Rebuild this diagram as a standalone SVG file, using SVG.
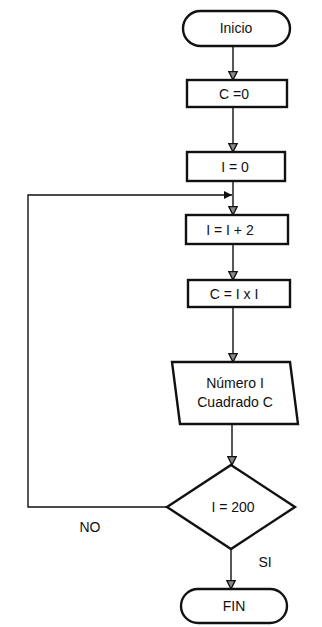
<svg xmlns="http://www.w3.org/2000/svg" width="322" height="627" viewBox="0 0 322 627">
  <style>
    .shape { fill: #fff; stroke: #111; stroke-width: 2.4; }
    .line { fill: none; stroke: #111; stroke-width: 1.4; }
    .label { font-family: "Liberation Sans", Arial, sans-serif; font-size: 14px; fill: #111; text-anchor: middle; dominant-baseline: central; }
  </style>
  <defs>
    <!-- hollow-ish arrowhead for the main flow -->
    <marker id="down" viewBox="-1 -1 12 12" refX="10" refY="5" markerWidth="10" markerHeight="10" markerUnits="userSpaceOnUse" orient="auto">
      <path d="M0,0 L10,5 L0,10 Z" fill="#888" stroke="#111" stroke-width="1.6"/>
    </marker>
    <!-- solid arrowhead for the loop return -->
    <marker id="head" viewBox="0 0 10 10" refX="10" refY="5" markerWidth="10" markerHeight="8" markerUnits="userSpaceOnUse" orient="auto">
      <path d="M0,0 L10,5 L0,10 Z" fill="#111"/>
    </marker>
  </defs>

  <!-- connectors -->
  <g id="connectors">
    <path class="line" d="M233,46 V80" marker-end="url(#down)"/>
    <path class="line" d="M233,107 V152" marker-end="url(#down)"/>
    <path class="line" d="M233,181 V215" marker-end="url(#down)"/>
    <path class="line" d="M233,244 V280" marker-end="url(#down)"/>
    <path class="line" d="M233,307 V362" marker-end="url(#down)"/>
    <path class="line" d="M232,424 V465" marker-end="url(#down)"/>
    <path class="line" d="M231,549 V589" marker-end="url(#down)"/>
    <!-- NO branch back to the loop -->
    <path class="line" d="M167,507 H28 V195 H232" marker-end="url(#head)"/>
    <text class="label" x="90" y="527">NO</text>
    <text class="label" x="265" y="562">SI</text>
  </g>

  <g id="inicio">
    <rect class="shape" x="183" y="11" width="107" height="35" rx="17.5"/>
    <text class="label" x="236" y="28">Inicio</text>
  </g>

  <g id="c0">
    <rect class="shape" x="187" y="80" width="100" height="27"/>
    <text class="label" x="234" y="94">C =0</text>
  </g>

  <g id="i0">
    <rect class="shape" x="187" y="152" width="98" height="29"/>
    <text class="label" x="235" y="167">I = 0</text>
  </g>

  <g id="inc">
    <rect class="shape" x="186" y="215" width="102" height="29"/>
    <text class="label" x="230" y="230">I = I + 2</text>
  </g>

  <g id="square">
    <rect class="shape" x="188" y="280" width="102" height="27"/>
    <text class="label" x="234" y="294">C = I x I</text>
  </g>

  <g id="output">
    <polygon class="shape" points="172,362 290,362 298,424 180,424"/>
    <text class="label" x="235" y="383">Número I</text>
    <text class="label" x="235" y="402">Cuadrado C</text>
  </g>

  <g id="check">
    <polygon class="shape" points="231,465 295,507 231,549 167,507"/>
    <text class="label" x="233" y="507">I = 200</text>
  </g>

  <g id="fin">
    <rect class="shape" x="181" y="589" width="106" height="34" rx="17"/>
    <text class="label" x="234" y="606">FIN</text>
  </g>
</svg>
